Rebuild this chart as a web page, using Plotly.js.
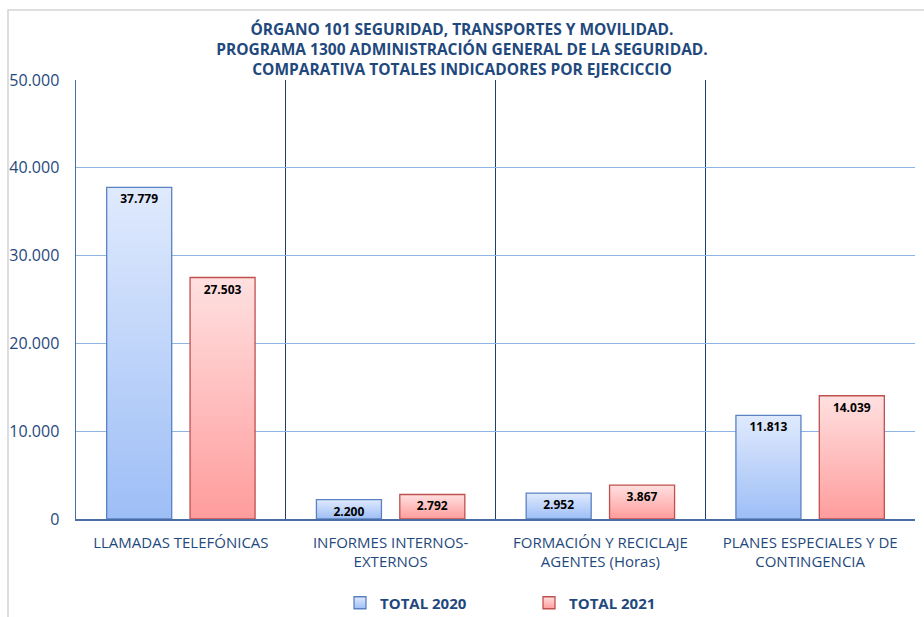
<!DOCTYPE html>
<html>
<head>
<meta charset="utf-8">
<script src="https://cdn.plot.ly/plotly-3.0.1.min.js"></script>
<style>html,body{margin:0;padding:0;background:#fff;}#chart{width:924px;height:617px;}</style>
</head>
<body>
<div id="chart"></div>
<script>
const categories = ["LLAMADAS TELEFÓNICAS", "INFORMES INTERNOS-EXTERNOS", "FORMACIÓN Y RECICLAJE AGENTES (Horas)", "PLANES ESPECIALES Y DE CONTINGENCIA"];
const tickLabels = ["LLAMADAS TELEFÓNICAS", "INFORMES INTERNOS-<br>EXTERNOS", "FORMACIÓN Y RECICLAJE<br>AGENTES (Horas)", "PLANES ESPECIALES Y DE<br>CONTINGENCIA"];
const total2020 = [37779, 2200, 2952, 11813];
const total2021 = [27503, 2792, 3867, 14039];
const seriesNames = ["TOTAL 2020", "TOTAL 2021"];
const yTicks = [0, 10000, 20000, 30000, 40000, 50000];
const titleLines = ["ÓRGANO 101 SEGURIDAD, TRANSPORTES Y MOVILIDAD.", "PROGRAMA 1300 ADMINISTRACIÓN GENERAL DE LA SEGURIDAD.", "COMPARATIVA TOTALES INDICADORES POR EJERCICCIO"];

const FONT = "Open Sans, sans-serif";
const DARK = "#1F497D";

function barTrace(name, vals, fill, line) {
  return {
    type: "bar", name: name, x: categories, y: vals,
    marker: {color: fill, line: {color: line, width: 1.3}},
    texttemplate: "%{y:,.0f}", textposition: "inside", insidetextanchor: "end",
    constraintext: "none",
    textfont: {family: FONT, size: 12, color: "#000", weight: "bold"},
    hoverinfo: "skip"
  };
}

const data = [
  barTrace(seriesNames[0], total2020, "#BCD2F9", "#5A82C2"),
  barTrace(seriesNames[1], total2021, "#FFBDBD", "#C0504D")
];

const layout = {
  width: 924, height: 617,
  separators: ",.",
  font: {family: FONT, color: DARK},
  paper_bgcolor: "#fff", plot_bgcolor: "#fff",
  margin: {l: 76, r: 9, t: 80, b: 98},
  title: {
    text: titleLines.join("<br>"),
    font: {family: FONT, size: 15.5, color: DARK, weight: "bold"},
    x: 0.5, xref: "container", xanchor: "center",
    y: 1 - 35 / 617, yref: "container", yanchor: "top"
  },
  barmode: "group", bargap: 0.205, bargroupgap: 0.22,
  xaxis: {
    type: "category",
    tickmode: "array", tickvals: categories, ticktext: tickLabels,
    tickson: "boundaries", ticks: "", showgrid: true, gridcolor: "#1F3F73", gridwidth: 1,
    showline: true, linecolor: "#4A6DA3", linewidth: 1.5,
    tickfont: {family: FONT, size: 15, color: DARK},
    ticklabelstandoff: 9,
    fixedrange: true
  },
  yaxis: {
    range: [0, 50000], tickmode: "array", tickvals: yTicks, tickformat: ",.0f",
    showgrid: true, gridcolor: "#8EB4E3", gridwidth: 1,
    showline: true, linecolor: "#4A6DA3", linewidth: 1.5,
    zeroline: false, ticks: "",
    tickfont: {family: FONT, size: 16, color: DARK},
    ticklabelstandoff: 12,
    fixedrange: true
  },
  showlegend: true,
  legend: {
    orientation: "h", xref: "container", yref: "container",
    x: 340 / 924, xanchor: "left", y: 14 / 617, yanchor: "middle",
    entrywidth: 144, entrywidthmode: "pixels",
    bgcolor: "rgba(0,0,0,0)",
    font: {family: FONT, size: 15, color: DARK, weight: "bold"},
    itemclick: false, itemdoubleclick: false
  },
  shapes: [{
    type: "rect", xref: "paper", yref: "paper",
    x0: -68 / 839, x1: 1.2, y0: -0.5, y1: 509 / 439,
    line: {color: "#D4D4D4", width: 1.5}, fillcolor: "rgba(0,0,0,0)", layer: "above"
  }]
};

Plotly.newPlot("chart", data, layout, {displayModeBar: false, staticPlot: true}).then(function(gd) {
  const NS = "http://www.w3.org/2000/svg";
  const svg = gd.querySelector(".main-svg");
  let defs = svg.querySelector("defs");
  const grads = [["g0", "#E0EAFD", "#9DBEF6"], ["g1", "#FFE0E0", "#FF9C9C"]];
  grads.forEach(function(g) {
    const lg = document.createElementNS(NS, "linearGradient");
    lg.setAttribute("id", g[0]);
    lg.setAttribute("x1", "0"); lg.setAttribute("y1", "0");
    lg.setAttribute("x2", "0"); lg.setAttribute("y2", "1");
    [[0, g[1]], [1, g[2]]].forEach(function(s) {
      const st = document.createElementNS(NS, "stop");
      st.setAttribute("offset", s[0]);
      st.setAttribute("stop-color", s[1]);
      lg.appendChild(st);
    });
    defs.appendChild(lg);
  });
  gd.querySelectorAll(".barlayer .trace").forEach(function(tr, i) {
    tr.querySelectorAll(".point path").forEach(function(p) { p.style.fill = "url(#g" + i + ")"; });
  });
  gd.querySelectorAll(".legend .traces").forEach(function(tr, i) {
    tr.querySelectorAll(".legendpoints path").forEach(function(p) { p.style.fill = "url(#g" + i + ")"; });
  });
});
</script>
</body>
</html>
